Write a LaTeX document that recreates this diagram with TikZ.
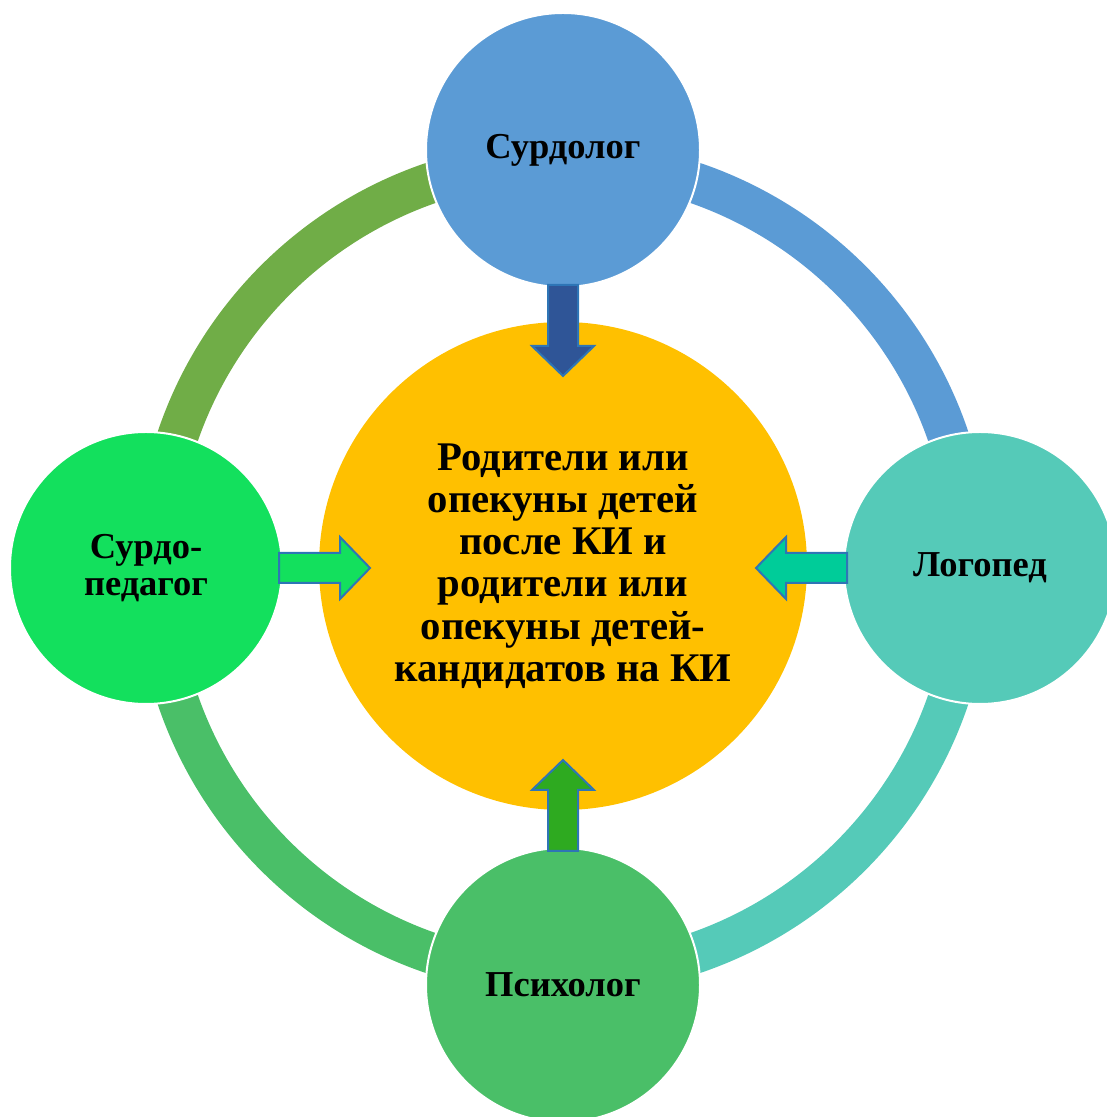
\documentclass[tikz,border=0pt]{standalone}
\usepackage{fontspec}
\setmainfont{Liberation Serif}
\definecolor{cblue}{HTML}{5B9BD5}
\definecolor{cteal}{HTML}{55CAB8}
\definecolor{cleft}{HTML}{13E05D}
\definecolor{cbot}{HTML}{4ABF68}
\definecolor{ccenter}{HTML}{FFC000}
\definecolor{ringtl}{HTML}{70AD47}
\definecolor{arrowborder}{HTML}{2E75B6}
\definecolor{atop}{HTML}{2F5597}
\definecolor{aleft}{HTML}{13E05D}
\definecolor{aright}{HTML}{00CC99}
\definecolor{abot}{HTML}{2EAA20}
\tikzset{
  outer/.style={circle, draw=white, line width=2pt, minimum size=274pt, inner sep=0pt, outer sep=0pt, align=center, font=\bfseries\fontsize{36.5}{37}\selectfont},
  ringseg/.style={line width=41pt},
  barrow/.pic={\path[draw=arrowborder, line width=2pt, fill=#1] (0,-15) -- (61,-15) -- (61,-31) -- (91,0) -- (61,31) -- (61,15) -- (0,15) -- cycle;}
}
\begin{document}
\begin{tikzpicture}[x=1pt,y=1pt]
\useasboundingbox (0,0) rectangle (1107,1117);
\clip (0,0) rectangle (1107,1117);
\coordinate (c) at (563,549);
% ring
\draw[ringseg, ringtl] ([shift={(90:407)}]c) arc[start angle=90, end angle=180, radius=407];
\draw[ringseg, cblue] ([shift={(0:407)}]c) arc[start angle=0, end angle=90, radius=407];
\draw[ringseg, cteal] ([shift={(-90:407)}]c) arc[start angle=-90, end angle=0, radius=407];
\draw[ringseg, cbot] ([shift={(180:407)}]c) arc[start angle=180, end angle=270, radius=407];
% center
\node[circle, fill=ccenter, minimum size=488pt, inner sep=0pt, align=center, font=\bfseries\fontsize{40.7}{42.3}\selectfont] (center) at (563,551) {Родители или\\опекуны детей\\после КИ и\\родители или\\опекуны детей-\\кандидатов на КИ};
% outer circles
\node[outer, fill=cblue] (top) at (563,967) {Сурдолог};
\node[outer, fill=cteal, minimum size=272pt] (right) at (980,549) {Логопед};
\node[outer, fill=cleft, minimum size=272pt] (left) at (146,549) {Сурдо-\\педагог};
\node[outer, fill=cbot] (bottom) at (563,132) {Психолог};
% arrows
\pic[rotate=-90] at ([yshift=2pt]top.south) {barrow=atop};
\pic at ([xshift=-3pt]left.east) {barrow=aleft};
\pic[rotate=180] at ([xshift=3pt]right.west) {barrow=aright};
\pic[rotate=90] at ([yshift=-3pt]bottom.north) {barrow=abot};
\end{tikzpicture}
\end{document}
